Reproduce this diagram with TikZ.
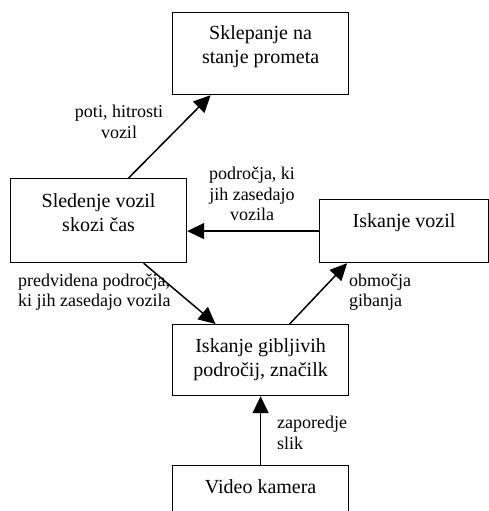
\documentclass[tikz,border=0pt]{standalone}
\usepackage{fontspec}
\setmainfont{Liberation Serif}
\usetikzlibrary{arrows.meta,positioning}
\tikzstyle{box}=[draw, line width=1.2pt, inner sep=0pt, anchor=north west]
\tikzstyle{boxtext}=[anchor=north, align=center, inner sep=0pt, font=\fontsize{20}{24}\selectfont]
\tikzstyle{flow}=[line width=1.5pt, -{Triangle[length=17pt, width=16pt]}]
\tikzstyle{note}=[inner sep=0pt, font=\fontsize{18}{20.5}\selectfont]

\begin{document}
\begin{tikzpicture}[x=1pt, y=-1pt]
\useasboundingbox (0,0) rectangle (489,511);
% Boxes
    \node[box, minimum width=176pt, minimum height=82pt] (sklep) at (172,12) {};
    \node[box, minimum width=176pt, minimum height=84pt] (sled) at (10,178) {};
    \node[box, minimum width=169pt, minimum height=63pt] (iskv) at (319,199) {};
    \node[box, minimum width=176pt, minimum height=71pt] (gib) at (172,324) {};
    \node[box, minimum width=176pt, minimum height=70pt] (kam) at (172,465) {};
% Box texts
    \node[boxtext, below=13pt of sklep.north] (sklep-t) {Sklepanje na\\stanje prometa};
    \node[boxtext, below=15pt of sled.north] (sled-t) {Sledenje vozil\\skozi čas};
    \node[boxtext, below=14pt of iskv.north] (iskv-t) {Iskanje vozil};
    \node[boxtext, below=14pt of gib.north] (gib-t) {Iskanje gibljivih\\področij, značilk};
    \node[boxtext, below=14pt of kam.north] (kam-t) {Video kamera};
% Arrows
    \draw[flow] ([xshift=30pt]sled.north) -- ([xshift=-50pt]sklep.south);
    \draw[flow] (iskv.west) -- (iskv.west -| sled.east);
    \draw[flow] ([xshift=45pt]sled.south) -- ([xshift=-45pt]gib.north);
    \draw[flow] ([xshift=29pt]gib.north) -- ([xshift=-57pt]iskv.south);
    \draw[flow] (kam.north) -- (gib.south);
% Arrow labels
    \node[note, align=center] (l-poti) at (119,122) {poti, hitrosti\\vozil};
    \node[note, align=center] (l-podr) at (252,194) {področja, ki\\jih zasedajo\\vozila};
    \node[note, align=left, anchor=west] (l-pred) at (18,292) {predvidena področja,\\ki jih zasedajo vozila};
    \node[note, align=left, anchor=west] (l-obm) at (349,292) {območja\\gibanja};
    \node[note, align=left, anchor=west] (l-zap) at (277,433) {zaporedje\\slik};
\end{tikzpicture}
\end{document}
